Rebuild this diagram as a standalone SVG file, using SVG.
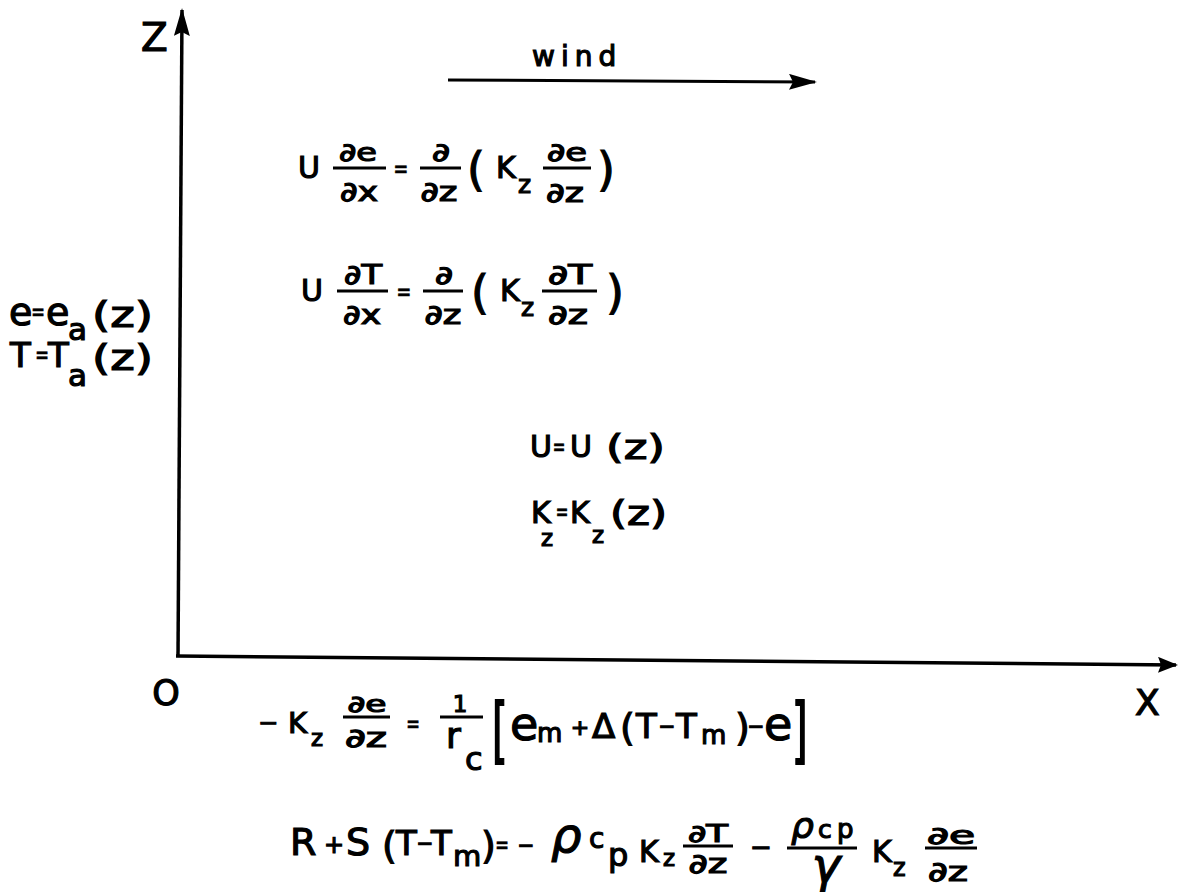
<svg xmlns="http://www.w3.org/2000/svg" width="1178" height="892" viewBox="0 0 1178 892">
<style>
.t{font-family:"DejaVu Sans","Liberation Sans",sans-serif;fill:#000;stroke:#000;stroke-width:1.2}
.q{font-family:"DejaVu Sans","Liberation Sans",sans-serif;fill:#000;stroke:#000;stroke-width:0.4;text-anchor:middle;font-size:26px}
.i{font-style:italic}
.m{text-anchor:middle}
.bar{stroke:#000;stroke-width:3.2;fill:none}
.ax{stroke:#000;stroke-width:3.5;fill:none}
</style>
<defs>
<marker id="ah" viewBox="0 0 28 16" refX="26" refY="8" markerWidth="28" markerHeight="16" markerUnits="userSpaceOnUse" orient="auto"><path d="M0,0 L28,8 L0,16 L4,8 Z" fill="#000"/></marker>
<marker id="ahs" viewBox="0 0 20 16" refX="18" refY="8" markerWidth="20" markerHeight="16" markerUnits="userSpaceOnUse" orient="auto"><path d="M0,0 L20,8 L0,16 L3,8 Z" fill="#000"/></marker>
</defs>
<rect width="1178" height="892" fill="#fff"/>

<g id="connectors">
<path class="ax" d="M178,657 L182,10" marker-end="url(#ah)"/>
<path class="ax" d="M176,656 L1176,665" marker-end="url(#ahs)"/>
<path class="ax" style="stroke-width:3" d="M448,80 L815,82" marker-end="url(#ah)"/>
</g>

<g id="label-z"><text class="t" x="141" y="51" font-size="39">Z</text></g>
<g id="label-x"><text class="t" x="1135" y="715" font-size="36">X</text></g>
<g id="label-origin"><text class="t m" x="166" y="705" font-size="35">O</text></g>
<g id="label-wind"><text class="t" x="532" y="66" font-size="28" letter-spacing="6">wind</text></g>

<g id="eq-vapour">
<text class="t" x="298" y="178" font-size="30">U</text>
<text class="t m" x="358" y="161" font-size="25" textLength="38" lengthAdjust="spacingAndGlyphs">∂e</text>
<line class="bar" x1="333" y1="168" x2="386" y2="168"/>
<text class="t m" x="359" y="201" font-size="27" textLength="38" lengthAdjust="spacingAndGlyphs">∂x</text>
<text class="q" transform="translate(401,178) scale(0.7,1)">=</text>
<text class="t m" x="441" y="161" font-size="25" textLength="18" lengthAdjust="spacingAndGlyphs">∂</text>
<line class="bar" x1="420" y1="168" x2="461" y2="168"/>
<text class="t m" x="439" y="201" font-size="27" textLength="37" lengthAdjust="spacingAndGlyphs">∂z</text>
<text class="t" x="467" y="185" font-size="46">(</text>
<text class="t" x="496" y="178" font-size="30">K</text>
<text class="t" x="518" y="193" font-size="25">z</text>
<text class="t m" x="567" y="161" font-size="25" textLength="40" lengthAdjust="spacingAndGlyphs">∂e</text>
<line class="bar" x1="543" y1="168" x2="591" y2="168"/>
<text class="t m" x="565" y="202" font-size="27" textLength="38" lengthAdjust="spacingAndGlyphs">∂z</text>
<text class="t" x="597" y="185" font-size="46">)</text>
</g>

<g id="eq-heat">
<text class="t" x="301" y="301" font-size="30">U</text>
<text class="t m" x="363" y="284" font-size="27" textLength="38" lengthAdjust="spacingAndGlyphs">∂T</text>
<line class="bar" x1="337" y1="291" x2="388" y2="291"/>
<text class="t m" x="362" y="324" font-size="27" textLength="38" lengthAdjust="spacingAndGlyphs">∂x</text>
<text class="q" transform="translate(404,301) scale(0.7,1)">=</text>
<text class="t m" x="444" y="284" font-size="25" textLength="18" lengthAdjust="spacingAndGlyphs">∂</text>
<line class="bar" x1="423" y1="291" x2="463" y2="291"/>
<text class="t m" x="443" y="324" font-size="27" textLength="37" lengthAdjust="spacingAndGlyphs">∂z</text>
<text class="t" x="471" y="308" font-size="46">(</text>
<text class="t" x="500" y="301" font-size="30">K</text>
<text class="t" x="521" y="316" font-size="25">z</text>
<text class="t m" x="570" y="284" font-size="27" textLength="44" lengthAdjust="spacingAndGlyphs">∂T</text>
<line class="bar" x1="542" y1="291" x2="597" y2="291"/>
<text class="t m" x="568" y="324" font-size="27" textLength="40" lengthAdjust="spacingAndGlyphs">∂z</text>
<text class="t" x="606" y="308" font-size="46">)</text>
</g>

<g id="bc-inflow">
<text class="t" x="9" y="325" font-size="38">e</text>
<text class="q" transform="translate(38,321) scale(0.65,1)">=</text>
<text class="t" x="46" y="325" font-size="38">e</text>
<text class="t" x="68" y="340" font-size="31">a</text>
<text class="t" x="92" y="327" font-size="35" textLength="61" lengthAdjust="spacingAndGlyphs">(z)</text>
<text class="t" x="10" y="367" font-size="34">T</text>
<text class="q" transform="translate(42,364) scale(0.65,1)">=</text>
<text class="t" x="48" y="367" font-size="34">T</text>
<text class="t" x="68" y="386" font-size="31">a</text>
<text class="t" x="92" y="370" font-size="35" textLength="61" lengthAdjust="spacingAndGlyphs">(z)</text>
</g>

<g id="profiles">
<text class="t" x="530" y="457" font-size="30">U</text>
<text class="q" transform="translate(559,456) scale(0.6,1)">=</text>
<text class="t" x="570" y="457" font-size="30">U</text>
<text class="t" x="606" y="459" font-size="33" textLength="59" lengthAdjust="spacingAndGlyphs">(z)</text>
<text class="t" x="531" y="523" font-size="30">K</text>
<text class="t" x="541" y="546" font-size="23">z</text>
<text class="q" transform="translate(562,521) scale(0.6,1)">=</text>
<text class="t" x="570" y="523" font-size="30">K</text>
<text class="t" x="592" y="543" font-size="23">z</text>
<text class="t" x="610" y="525" font-size="33" textLength="57" lengthAdjust="spacingAndGlyphs">(z)</text>
</g>

<g id="bc-surface-vapour">
<text class="t m" x="268" y="731" font-size="24">−</text>
<text class="t" x="288" y="733" font-size="29">K</text>
<text class="t" x="311" y="746" font-size="23">z</text>
<text class="t m" x="367" y="712" font-size="23" textLength="39" lengthAdjust="spacingAndGlyphs">∂e</text>
<line class="bar" x1="343" y1="717" x2="390" y2="717"/>
<text class="t m" x="366" y="747" font-size="26" textLength="42" lengthAdjust="spacingAndGlyphs">∂z</text>
<text class="q" transform="translate(413,733) scale(0.65,1)">=</text>
<text class="t m" x="460" y="712" font-size="23">1</text>
<line class="bar" x1="440" y1="717" x2="483" y2="717"/>
<text class="t" x="446" y="748" font-size="36">r</text>
<text class="t" x="465" y="770" font-size="32">c</text>
<text class="t" transform="translate(492,754) scale(1,1.8)" font-size="40">[</text>
<text class="t" x="510" y="740" font-size="46">e</text>
<text class="t" x="537" y="742" font-size="26">m</text>
<text class="t m" x="580" y="735" font-size="22">+</text>
<text class="t" x="592" y="738" font-size="34">Δ</text>
<text class="t" x="620" y="740" font-size="38">(</text>
<text class="t" x="636" y="738" font-size="34">T</text>
<text class="t m" x="667" y="733" font-size="20">−</text>
<text class="t" x="676" y="738" font-size="34">T</text>
<text class="t" x="701" y="744" font-size="26">m</text>
<text class="t" x="735" y="740" font-size="38">)</text>
<text class="t m" x="756" y="733" font-size="20">−</text>
<text class="t" x="764" y="740" font-size="46">e</text>
<text class="t" transform="translate(792,754) scale(1,1.8)" font-size="40">]</text>
</g>

<g id="bc-surface-energy">
<text class="t" x="290" y="855" font-size="38">R</text>
<text class="t m" x="334" y="853" font-size="24">+</text>
<text class="t" x="346" y="855" font-size="38">S</text>
<text class="t" x="382" y="858" font-size="38">(</text>
<text class="t" x="396" y="855" font-size="34">T</text>
<text class="t m" x="425" y="850" font-size="20">−</text>
<text class="t" x="431" y="855" font-size="34">T</text>
<text class="t" x="453" y="866" font-size="29">m</text>
<text class="t" x="481" y="858" font-size="38">)</text>
<text class="q" transform="translate(502,854) scale(0.65,1)">=</text>
<text class="t m" x="526" y="852" font-size="20">−</text>
<text class="t i" x="551" y="852" font-size="48">ρ</text>
<text class="t" x="589" y="848" font-size="28">c</text>
<text class="t" x="608" y="866" font-size="32">p</text>
<text class="t" x="639" y="862" font-size="30">K</text>
<text class="t" x="663" y="866" font-size="23">z</text>
<text class="t m" x="708" y="842" font-size="24" textLength="40" lengthAdjust="spacingAndGlyphs">∂T</text>
<line class="bar" x1="683" y1="846" x2="733" y2="846"/>
<text class="t m" x="708" y="873" font-size="27" textLength="39" lengthAdjust="spacingAndGlyphs">∂z</text>
<text class="t m" x="761" y="856" font-size="26">−</text>
<text class="t i" x="791" y="838" font-size="36">ρ</text>
<text class="t" x="818" y="838" font-size="25">c</text>
<text class="t" x="837" y="838" font-size="26">p</text>
<line class="bar" x1="787" y1="848" x2="857" y2="848"/>
<text class="t i m" x="826" y="882" font-size="48">γ</text>
<text class="t" x="872" y="862" font-size="30">K</text>
<text class="t" x="893" y="876" font-size="24">z</text>
<text class="t m" x="951" y="844" font-size="24" textLength="48" lengthAdjust="spacingAndGlyphs">∂e</text>
<line class="bar" x1="925" y1="848" x2="977" y2="848"/>
<text class="t m" x="948" y="881" font-size="27" textLength="40" lengthAdjust="spacingAndGlyphs">∂z</text>
</g>
</svg>
